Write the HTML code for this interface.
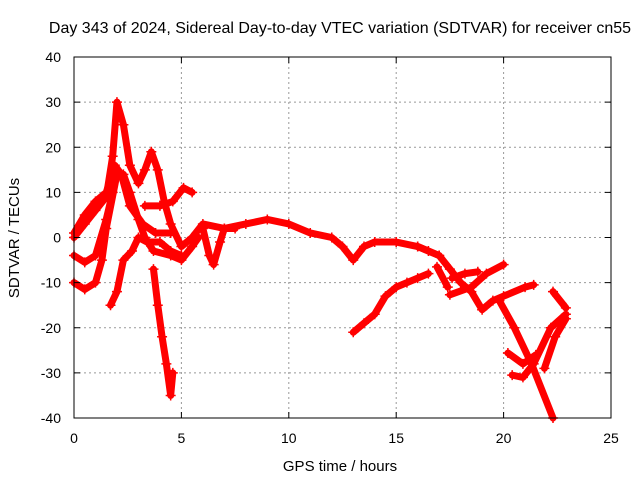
<!DOCTYPE html>
<html><head><meta charset="utf-8"><style>
body{margin:0;background:#fff}
svg{font-family:"Liberation Sans",sans-serif}
</style></head><body>
<svg id="c" width="640" height="480">
<text x="340" y="33" font-size="16" text-anchor="middle">Day 343 of 2024, Sidereal Day-to-day VTEC variation (SDTVAR) for receiver cn55</text>
<text x="340" y="471" font-size="15" text-anchor="middle">GPS time / hours</text>
<text transform="translate(19,238) rotate(-90)" font-size="15" text-anchor="middle">SDTVAR / TECUs</text>
<g id="grid"></g><g id="series"></g><g id="axes"></g>
</svg>
<script>
const xTicks=[0,5,10,15,20,25];
const yTicks=[-40,-30,-20,-10,0,10,20,30,40];
const s1x=[0,0.5,1,1.5,1.8,2,2.3,2.6,3,3.3,3.6,3.9,4.2,4.5,5,5.5,6,7,8,9,10,11,12,12.5,13,13.5,14,15,16,17];
const s1y=[0,3,6,9,18,30,25,16,12,15,19,15,8,3,-2,0,3,2,3,4,3,1,0,-2,-5,-2,-1,-1,-2,-4];
const s2x=[0,0.5,1,1.3,1.5,2,2.3,2.6,3,3.3,3.7,4.5,5,5.5,5.8];
const s2y=[-10,-11.5,-10,-5,2,14,14,10,4,0,-3,-4,-5,-2,0];
const s3x=[0,0.5,1,1.5,1.8];
const s3y=[-4,-5.5,-4,4,10];
const s4x=[1.7,2,2.3,2.7,3,3.4,4,4.5,5];
const s4y=[-15,-12,-5,-3,0,-1,-1,-3,-4];
const s5x=[3.7,3.9,4.1,4.3,4.5,4.6];
const s5y=[-7,-15,-22,-28,-35,-30];
const s6x=[0,0.5,1,1.5,1.9,2.2,2.6,3.2,3.8,4.5];
const s6y=[1,5,8,10,16,14,7,3,1,1];
const s7x=[3.3,4,4.6,5.1,5.5];
const s7y=[7,7,8,11,10];
const s8x=[6,6.3,6.5,6.8,7,7.5];
const s8y=[2,-4,-6,-1,2,2];
const s9x=[13,13.5,14,14.5,15,15.5,16,16.5];
const s9y=[-21,-19,-17,-13,-11,-10,-9,-8];
const s10x=[16,16.5,17,17.5,18,18.5,19,19.5,20,21,21.4];
const s10y=[-2,-3,-4,-7,-10,-12,-16,-14,-13,-11,-10.5];
const s11x=[17.5,18.5,19.2,20];
const s11y=[-12.7,-11,-8,-6];
const s12x=[19.8,20.5,21.3,22.3];
const s12y=[-14,-20,-28,-40];
const s13x=[20.2,20.9,21.5];
const s13y=[-25.6,-28,-26];
const s14x=[20.4,20.9,21.4,22.2,22.9];
const s14y=[-30.5,-31,-28,-20,-17];
const s15x=[21.9,22.4,22.9];
const s15y=[-29,-22,-18];
const s16x=[22.3,22.9];
const s16y=[-12,-15.6];
const s17x=[16.9,17.4];
const s17y=[-6.5,-11];
const s18x=[17.6,18.2,18.8];
const s18y=[-9,-8,-7.6];
const seriesX=[s1x,s2x,s3x,s4x,s5x,s6x,s7x,s8x,s9x,s10x,s11x,s12x,s13x,s14x,s15x,s16x,s17x,s18x];
const seriesY=[s1y,s2y,s3y,s4y,s5y,s6y,s7y,s8y,s9y,s10y,s11y,s12y,s13y,s14y,s15y,s16y,s17y,s18y];
const X0=74,X1=611,Y0=418,Y1=57;
const sx=v=>X0+(v-0)/25*(X1-X0);
const sy=v=>Y0-(v+40)/80*(Y0-Y1);
const NS="http://www.w3.org/2000/svg";
function mk(tag,attrs,parent){const e=document.createElementNS(NS,tag);for(const k in attrs)e.setAttribute(k,attrs[k]);parent.appendChild(e);return e;}
const grid=document.getElementById('grid'),axes=document.getElementById('axes'),ser=document.getElementById('series');
xTicks.forEach(t=>{
 const g=mk('line',{x1:sx(t),x2:sx(t),y1:Y1,y2:Y0,stroke:'#999','stroke-dasharray':'2,3'},grid);
 
 
 const l=mk('text',{x:sx(t),y:Y0+25,'font-size':14,'text-anchor':'middle'},axes);
 l.textContent=t;
 
 
 mk('line',{x1:sx(t),x2:sx(t),y1:Y0,y2:Y0-6,stroke:'#000'},axes);
 mk('line',{x1:sx(t),x2:sx(t),y1:Y1,y2:Y1+6,stroke:'#000'},axes);
});
yTicks.forEach(t=>{
 const g=mk('line',{x1:X0,x2:X1,y1:sy(t),y2:sy(t),stroke:'#999','stroke-dasharray':'2,3'},grid);
 
 
 const l=mk('text',{x:X0-13,y:sy(t)+5,'font-size':14,'text-anchor':'end'},axes);
 l.textContent=t;
 
 
 mk('line',{x1:X0,x2:X0+6,y1:sy(t),y2:sy(t),stroke:'#000'},axes);
 mk('line',{x1:X1,x2:X1-6,y1:sy(t),y2:sy(t),stroke:'#000'},axes);
});
const fr=mk('rect',{x:X0,y:Y1,width:X1-X0,height:Y0-Y1,fill:'none',stroke:'#000'},axes);


seriesX.forEach((xs,i)=>{
 const ys=seriesY[i];
 const pts=xs.map((x,j)=>sx(x)+','+sy(ys[j])).join(' ');
 const p=mk('polyline',{points:pts,fill:'none',stroke:'#f00','stroke-width':7,'stroke-linejoin':'round','stroke-linecap':'round'},ser);
 
 
 xs.forEach((x,j)=>{
  const cx=sx(x),cy=sy(ys[j]);
  const m=mk('path',{d:`M${cx-5},${cy}H${cx+5}M${cx},${cy-5}V${cy+5}`,stroke:'#f00','stroke-width':1.5},ser);
  
  
 });
});
</script>
</body></html>
